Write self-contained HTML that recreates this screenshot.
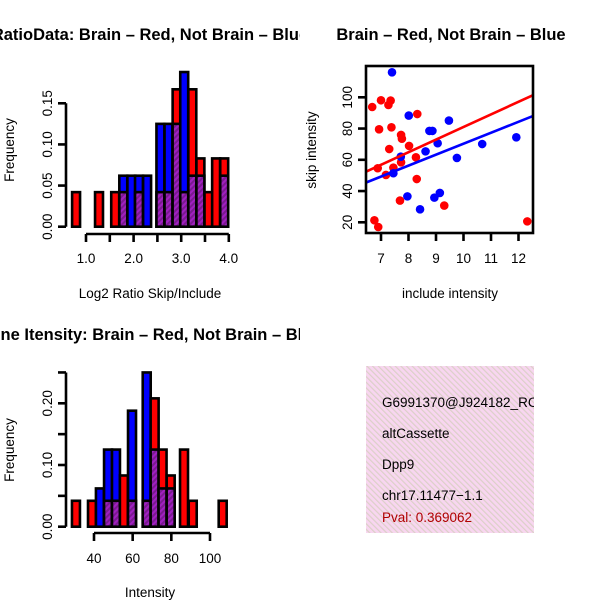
<!DOCTYPE html>
<html><head><meta charset="utf-8"><style>
html,body{margin:0;padding:0;background:#fff}
svg{display:block;font-family:"Liberation Sans",Arial,sans-serif}
</style></head><body>
<svg id="c" width="600" height="600" viewBox="0 0 600 600" xmlns="http://www.w3.org/2000/svg">
<defs>
<pattern id="hatch" patternUnits="userSpaceOnUse" width="4" height="4" patternTransform="rotate(45)">
<rect width="4" height="4" fill="#a020c0"/><rect width="2" height="4" fill="#7a1a90"/></pattern>
<pattern id="pinkhatch" patternUnits="userSpaceOnUse" width="4" height="4" patternTransform="rotate(-45)">
<rect width="4" height="4" fill="#f8d6f0"/><rect width="1.2" height="4" fill="#dcd0c8"/></pattern>
<clipPath id="clipL"><rect x="0" y="0" width="300" height="600"/></clipPath>
</defs>
<g id="p1"></g>
<g id="p2"></g>
<g id="p3"></g>
<g id="p4">
<rect x="366" y="366" width="168" height="167" fill="url(#pinkhatch)"/>
<svg x="366" y="366" width="168" height="167" overflow="hidden">
<text x="16" y="41" font-size="13.5">G6991370@J924182_RC</text>
<text x="16" y="72" font-size="13.5">altCassette</text>
<text x="16" y="103" font-size="13.5">Dpp9</text>
<text x="16" y="134" font-size="13.5">chr17.11477−1.1</text>
<text x="16" y="156" font-size="13.5" fill="#b00000">Pval: 0.369062</text>
</svg>
</g>
</svg>
<script>
// ---- Histogram 1 data (Log2 ratio) ----
const h1Bins = [0.708,1.19,1.53,1.70,1.87,2.03,2.20,2.48,2.65,2.82,2.98,3.15,3.32,3.49,3.65,3.82];
const h1Red  = [0.042,0.042,0.042,0.042,0,0.042,0,0.042,0.042,0.167,0.042,0.167,0.083,0.042,0.083,0.083];
const h1Blue = [0,0,0,0.062,0.062,0.062,0.062,0.125,0.125,0.125,0.188,0.062,0.062,0,0,0.062];
const h1XTicks = [1.0,1.5,2.0,2.5,3.0,3.5,4.0];
const h1XLabels = ["1.0","","2.0","","3.0","","4.0"];
const h1YTicks = [0,0.05,0.10,0.15];
const h1YLabels = ["0.00","0.05","0.10","0.15"];
// ---- Histogram 2 data (Intensity) ----
const h2Bins = [28.6,36.9,41.0,45.2,49.3,53.4,57.6,65.2,69.3,73.4,77.6,84.5,89.0,104.5];
const h2Red  = [0.042,0.042,0,0.042,0.042,0.083,0.042,0.042,0.208,0.125,0.083,0.125,0.042,0.042];
const h2Blue = [0,0,0.062,0.125,0.125,0,0.188,0.25,0.125,0.062,0.062,0,0,0];
const h2XTicks = [40,60,80,100];
const h2YTicks = [0,0.05,0.10,0.15,0.20,0.25];
const h2YLabels = ["0.00","","0.10","","0.20",""];
// ---- Scatter data ----
const redX = [6.68,7.0,7.35,7.27,6.93,7.38,7.73,7.76,7.30,8.02,8.32,8.27,7.45,6.88,7.18,7.73,8.30,7.69,9.30,6.76,6.90,12.32];
const redY = [93.8,98.1,97.9,95.1,79.5,80.8,75.9,73.5,66.9,68.9,89.3,61.6,55.0,54.6,50.3,58.4,47.7,33.9,30.7,21.3,17.0,20.6];
const blueX = [7.40,8.01,8.76,8.87,9.06,9.47,8.62,7.72,7.45,9.76,10.68,11.92,7.96,8.94,9.14,8.42];
const blueY = [116,88.3,78.5,78.5,70.6,85.1,65.4,62.0,51.4,61.2,70.1,74.4,36.6,35.8,38.8,28.3];
const redFit = [0.4,8.06];   // intercept, slope
const blueFit = [0.2,7.01];
const scXTicks = [7,8,9,10,11,12];
const scYTicks = [20,40,60,80,100];

const FS=13.5, TFS=16.5;
const NS="http://www.w3.org/2000/svg";
function mk(tag,attrs,parent){const e=document.createElementNS(NS,tag);for(const k in attrs)e.setAttribute(k,attrs[k]);parent.appendChild(e);return e;}
function txt(parent,x,y,s,size,opts){const t=mk('text',Object.assign({x:x,y:y,'font-size':size,'text-anchor':'middle'},opts||{}),parent);t.textContent=s;return t;}

function hist(g,bins,red,blue,w,sx,sy,y0){
  for(let i=0;i<bins.length;i++){
    const x0=sx(bins[i]),x1=sx(bins[i]+w);
    const r=red[i],b=blue[i],mx=Math.max(r,b),mn=Math.min(r,b);
    if(mx<=0)continue;
    const top=r>=b?'red':'#0000ff';
    const bar=mk('rect',{x:x0,y:sy(mx),width:x1-x0,height:y0-sy(mx),fill:top,stroke:'#000','stroke-width':2.6},g);
    
    
    if(mn>0){
      const ov=mk('rect',{x:x0,y:sy(mn),width:x1-x0,height:y0-sy(mn),fill:'url(#hatch)',stroke:'#000','stroke-width':2.6},g);
      
      
    }
  }
}
function yaxis(g,x,ticks,labels,sy){
  mk('line',{x1:x,x2:x,y1:sy(ticks[0]),y2:sy(ticks[ticks.length-1]),stroke:'#000','stroke-width':2.6},g);
  ticks.forEach((t,i)=>{
    mk('line',{x1:x-8,x2:x,y1:sy(t),y2:sy(t),stroke:'#000','stroke-width':2.6},g);
    if(labels[i]){const l=txt(g,0,0,labels[i],FS,{transform:`translate(${x-18},${sy(t)}) rotate(-90)`,dy:'4'});
      }
  });
}
function xaxis(g,y,ticks,labels,sx,ly){
  mk('line',{x1:sx(ticks[0]),x2:sx(ticks[ticks.length-1]),y1:y,y2:y,stroke:'#000','stroke-width':2.6},g);
  ticks.forEach((t,i)=>{
    mk('line',{x1:sx(t),x2:sx(t),y1:y,y2:y+8,stroke:'#000','stroke-width':2.6},g);
    if(labels[i]){const l=txt(g,sx(t),ly,labels[i],FS);
      }
  });
}

// Panel 1
(function(){
  const g=document.getElementById('p1');
  const sx=v=>86+(v-1)*47.6, y0=226.7, sy=v=>y0-v*822.7;
  hist(g,h1Bins,h1Red,h1Blue,0.167,sx,sy,y0);
  yaxis(g,66,h1YTicks,h1YLabels,sy);
  xaxis(g,234,h1XTicks,h1XLabels,sx,263);
  const cg=mk('g',{'clip-path':'url(#clipL)'},g);
  const t=txt(cg,150,40,'RatioData: Brain – Red, Not Brain – Blue',TFS,{'font-weight':'bold'});
  
  const xl=txt(g,150,298,'Log2 Ratio Skip/Include',FS);
  
  const yl=txt(g,0,0,'Frequency',FS,{transform:'translate(14,150) rotate(-90)'});
  
})();

// Panel 3
(function(){
  const g=document.getElementById('p3');
  const sx=v=>94+(v-40)*1.9333, y0=526.7, sy=v=>y0-v*617;
  hist(g,h2Bins,h2Red,h2Blue,4.13,sx,sy,y0);
  yaxis(g,66,h2YTicks,h2YLabels,sy);
  xaxis(g,533,h2XTicks,h2XTicks.map(String),sx,563);
  const cg=mk('g',{'clip-path':'url(#clipL)'},g);
  const t=txt(cg,150,340,'Gene Itensity: Brain – Red, Not Brain – Blue',TFS,{'font-weight':'bold'});
  
  const xl=txt(g,150,597,'Intensity',FS);
  
  const yl=txt(g,0,0,'Frequency',FS,{transform:'translate(14,450) rotate(-90)'});
  
})();

// Panel 2 scatter
(function(){
  const g=document.getElementById('p2');
  const sx=v=>381+(v-7)*27.5, sy=v=>222.3-(v-20)*1.5625;
  const L=366,R=533,T=66,B=233;
  const cp=mk('clipPath',{id:'clipS'},document.querySelector('defs'));
  mk('rect',{x:L,y:T,width:R-L,height:B-T},cp);
  const pg=mk('g',{'clip-path':'url(#clipS)'},g);
  redX.forEach((x,i)=>{const c=mk('circle',{cx:sx(x),cy:sy(redY[i]),r:4.3,fill:'#ff0000'},pg);
    });
  blueX.forEach((x,i)=>{const c=mk('circle',{cx:sx(x),cy:sy(blueY[i]),r:4.3,fill:'#0000ff'},pg);
    });
  [[redFit,'#ff0000','brain-fit-line'],[blueFit,'#0000ff','not-brain-fit-line']].forEach(([f,col,n])=>{
    const xa=6,xb=13;
    const ln=mk('line',{x1:sx(xa),y1:sy(f[0]+f[1]*xa),x2:sx(xb),y2:sy(f[0]+f[1]*xb),stroke:col,'stroke-width':2.6},pg);
    
  });
  const box=mk('rect',{x:L,y:T,width:R-L,height:B-T,fill:'none',stroke:'#000','stroke-width':2.6},g);
  
  scXTicks.forEach(t=>{mk('line',{x1:sx(t),x2:sx(t),y1:B,y2:B+8,stroke:'#000','stroke-width':2.6},g);
    const l=txt(g,sx(t),263,String(t),FS);});
  scYTicks.forEach(t=>{mk('line',{x1:L-8,x2:L,y1:sy(t),y2:sy(t),stroke:'#000','stroke-width':2.6},g);
    const l=txt(g,0,0,String(t),FS,{transform:`translate(${L-18},${sy(t)}) rotate(-90)`,dy:'4'});
    });
  const t=txt(g,451,40,'Brain – Red, Not Brain – Blue',TFS,{'font-weight':'bold'});
  
  const xl=txt(g,450,298,'include intensity',FS);
  
  const yl=txt(g,0,0,'skip intensity',FS,{transform:'translate(316,150) rotate(-90)'});
  
})();
</script>
</body></html>
